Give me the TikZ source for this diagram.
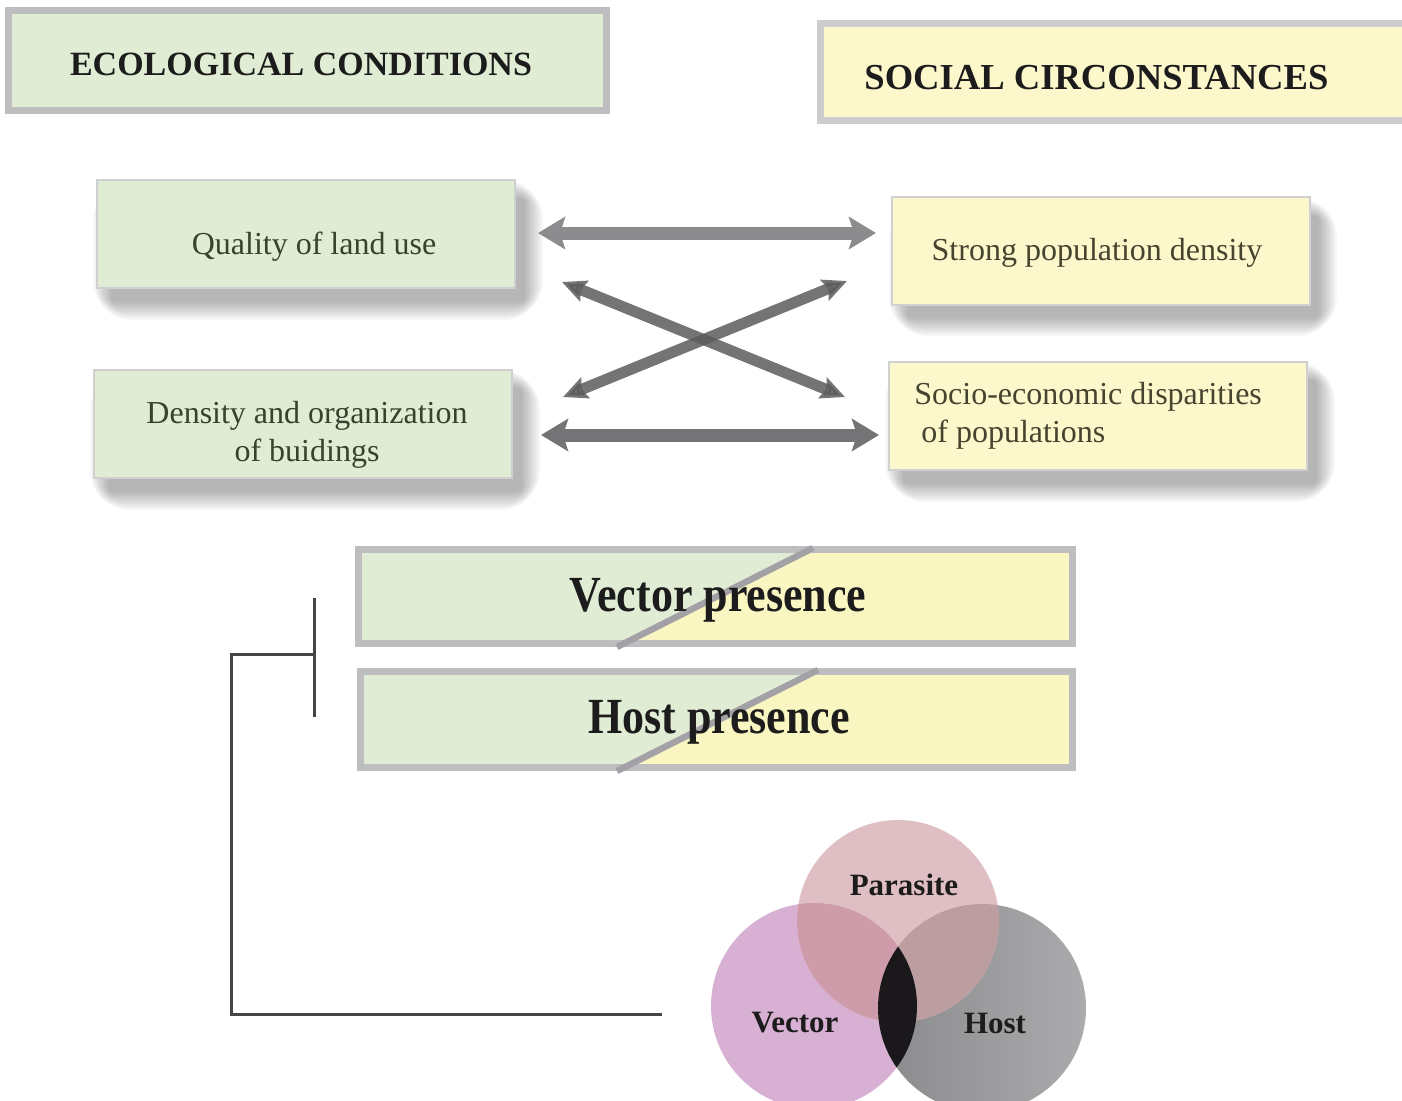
\documentclass[tikz,border=0pt]{standalone}
\usepackage{fontspec}
\setmainfont{Liberation Serif}
\usetikzlibrary{arrows.meta}
\definecolor{grn}{HTML}{E0ECD4}
\definecolor{ylw}{HTML}{FCF8CC}
\definecolor{ylw2}{HTML}{FAF6C2}
\definecolor{brd}{HTML}{BEBEC0}
\definecolor{brd2}{HTML}{CDCDCD}
\definecolor{brd3}{HTML}{D0D0D0}
\definecolor{diag}{HTML}{A2A2A6}
\definecolor{txtg}{HTML}{38432F}
\definecolor{txty}{HTML}{46432E}
\definecolor{hd}{HTML}{1C1C1C}
\definecolor{arA}{HTML}{8C8C8E}
\definecolor{arB}{HTML}{747476}
\definecolor{arC}{HTML}{5C5C5E}
\definecolor{par}{HTML}{DFBFC3}
\definecolor{vec}{HTML}{D8B0D3}
\definecolor{hst}{HTML}{ABABAD}
\definecolor{hstD}{HTML}{8A8A8C}
\definecolor{vp}{HTML}{CD9BA9}
\definecolor{ph}{HTML}{BC9DA0}
\definecolor{lens}{HTML}{1B181C}
\definecolor{brk}{HTML}{454545}
\newcommand{\boxshadow}[4]{%
  \foreach \i in {1,...,10}{%
    \fill[black, opacity=0.032, rounded corners=2*\i]
      ({#1+12+4-2*\i},{#2+16+4-2*\i}) rectangle ({#3+12-4+2*\i},{#4+16-4+2*\i});
  }}
\begin{document}
\begin{tikzpicture}[x=0.5pt,y=-0.5pt,
  headbox/.style={draw=brd, line width=3.5pt, inner sep=0pt},
  smallbox/.style={draw=brd3, line width=0.8pt, inner sep=0pt,
    minimum width=209pt, minimum height=54pt},
  smalltext/.style={font=\fontsize{16}{19}\selectfont, inner sep=0pt},
  presbox/.style={draw=brd, line width=3.5pt, inner sep=0pt},
  prestext/.style={font=\fontsize{22}{26}\selectfont\bfseries, text=hd, inner sep=0pt},
  harrow/.style={line width=6.5pt, {Stealth[length=13.5pt,width=16pt,inset=2.5pt]}-{Stealth[length=13.5pt,width=16pt,inset=2.5pt]}},
  xarrow/.style={draw=arC, line width=5.5pt, opacity=0.85, {Stealth[length=12pt,width=11pt,inset=2pt]}-{Stealth[length=12pt,width=11pt,inset=2pt]}},
  venntext/.style={font=\fontsize{15.5}{18}\selectfont\bfseries, text=hd, inner sep=0pt},
  bracket/.style={draw=brk, line width=1.5pt}
]
\useasboundingbox (0,0) rectangle (1402,1100);
\clip (0,0) rectangle (1402,1100);
\fill[white] (0,0) rectangle (1402,1100);

% header boxes
\node[headbox, fill=grn, minimum width=299pt, minimum height=50pt] (eco) at (307.5,60.5) {};
\node[font=\fontsize{17}{20}\selectfont\bfseries, text=hd] (ecot) at (301,64) {ECOLOGICAL CONDITIONS};
\node[headbox, draw=brd2, fill=ylw, minimum width=300pt, minimum height=48.5pt] (soc) at (1120,72) {};
\node[font=\fontsize{18.3}{21}\selectfont\bfseries, text=hd, anchor=west, inner sep=0pt] (soct) at (864,78) {SOCIAL CIRCONSTANCES};

% shadows of small boxes
\boxshadow{97}{180}{515}{288}
\boxshadow{94}{370}{512}{478}
\boxshadow{893}{198}{1309}{304}
\boxshadow{889}{362}{1307}{470}

% small boxes
\node[smallbox, fill=grn] (qual) at (306,234) {};
\node[smalltext, text=txtg] (qualt) at (314,247) {Quality of land use};
\node[smallbox, fill=grn] (dens) at (303,424) {};
\node[smalltext, text=txtg, align=center] (denst) at (307,435) {Density and organization\\of buidings};
\node[smallbox, fill=ylw] (strong) at (1101,251) {};
\node[smalltext, text=txty] (strongt) at (1097,253) {Strong population density};
\node[smallbox, fill=ylw] (socio) at (1098,416) {};
\node[smalltext, text=txty, align=left, anchor=west] (sociot) at (914,416) {Socio-economic disparities\\\hspace{3.5pt}of populations};

% arrows
\coordinate (h1a) at (538,233);
\coordinate (h1b) at (876,233);
\coordinate (h2a) at (541,435);
\coordinate (h2b) at (879,435);
\coordinate (x1a) at (562,282);
\coordinate (x1b) at (845,397);
\coordinate (x2a) at (563,397);
\coordinate (x2b) at (847,281);
\draw[harrow, draw=arA, fill=arA] (h1a) -- (h1b);
\draw[xarrow] (x1a) -- (x1b);
\draw[xarrow] (x2a) -- (x2b);
\draw[harrow, draw=arB, fill=arB] (h2a) -- (h2b);

% presence boxes
\fill[grn] (358,549) -- (815,549) -- (617,644) -- (358,644) -- cycle;
\fill[ylw2] (815,549) -- (1073,549) -- (1073,644) -- (617,644) -- cycle;
\node[presbox, minimum width=357pt, minimum height=47pt] (vbox) at (715.5,596.5) {};
\draw[draw=diag, line width=3.2pt] (617,647) -- (813,548);
\node[prestext] (vtxt) at (718,600) {\scalebox{1}[1.15]{Vector presence}};

\fill[grn] (360,671) -- (820,671) -- (617,768) -- (360,768) -- cycle;
\fill[ylw2] (820,671) -- (1073,671) -- (1073,768) -- (617,768) -- cycle;
\node[presbox, minimum width=356pt, minimum height=48pt] (hbox) at (716.5,719.5) {};
\draw[draw=diag, line width=3.2pt] (617,771) -- (818,670);
\node[prestext] (htxt) at (719,722) {\scalebox{1}[1.15]{Host presence}};

% bracket
\coordinate (bt) at (314,598);
\coordinate (bb) at (314,717);
\coordinate (bj) at (314,654);
\coordinate (be) at (662,1014);
\draw[bracket] (bt) -- (bb);
\draw[bracket] (bj) -- ++(-83,0) |- (be);

% venn
\coordinate (cP) at (898,921);
\coordinate (cV) at (814,1006);
\coordinate (cH) at (982,1008);
\fill[vec] (cV) circle[radius=51.5pt];
\shade[left color=hstD, right color=hst] (cH) circle[radius=52pt];
\fill[par] (cP) circle[radius=50.5pt];
\begin{scope}
  \clip (cV) circle[radius=51.5pt];
  \fill[vp] (cP) circle[radius=50.5pt];
\end{scope}
\begin{scope}
  \clip (cH) circle[radius=52pt];
  \fill[ph] (cP) circle[radius=50.5pt];
\end{scope}
\begin{scope}
  \clip (cV) circle[radius=51.5pt];
  \fill[lens] (cH) circle[radius=52pt];
\end{scope}
\node[venntext] (lpar) at (904,885) {Parasite};
\node[venntext] (lvec) at (795,1023) {Vector};
\node[venntext] (lhst) at (995,1023) {Host};
\end{tikzpicture}
\end{document}
